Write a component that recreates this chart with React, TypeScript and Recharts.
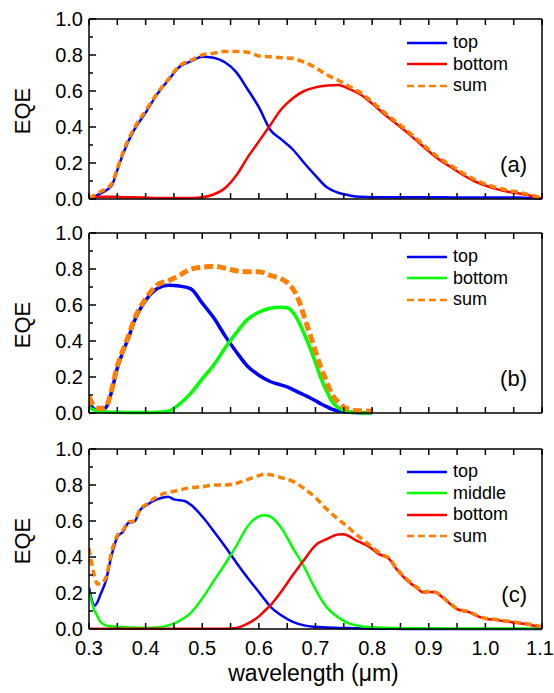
import { LineChart, Line, XAxis, YAxis, Legend } from 'recharts'

const FONT = '"Liberation Sans", Arial, sans-serif'

const X_TICKS = [0.3, 0.35, 0.4, 0.45, 0.5, 0.55, 0.6, 0.65, 0.7, 0.75, 0.8, 0.85, 0.9, 0.95, 1.0, 1.05, 1.1]
const Y_TICKS = [0, 0.1, 0.2, 0.3, 0.4, 0.5, 0.6, 0.7, 0.8, 0.9, 1.0]

// panel (a)
const WL_A = [0.30, 0.32, 0.34, 0.35, 0.36, 0.38, 0.40, 0.42, 0.44, 0.46, 0.48, 0.50, 0.52, 0.54, 0.56, 0.58, 0.60, 0.62, 0.64, 0.66, 0.68, 0.70, 0.72, 0.74, 0.76, 0.78, 0.80, 0.82, 0.84, 0.86, 0.88, 0.90, 0.92, 0.94, 0.96, 0.98, 1.00, 1.02, 1.04, 1.06, 1.08, 1.10]
const TOP_A = [0.0, 0.03, 0.075, 0.16, 0.25, 0.385, 0.48, 0.58, 0.66, 0.735, 0.765, 0.79, 0.785, 0.76, 0.705, 0.61, 0.51, 0.385, 0.33, 0.275, 0.2, 0.13, 0.065, 0.035, 0.02, 0.012, 0.01, 0.01, 0.01, 0.01, 0.01, 0.01, 0.01, 0.009, 0.009, 0.009, 0.008, 0.008, 0.008, 0.008, 0.005, 0.002]
const BOTTOM_A = [0.01, 0.012, 0.012, 0.012, 0.01, 0.01, 0.008, 0.006, 0.006, 0.005, 0.006, 0.01, 0.025, 0.06, 0.13, 0.23, 0.32, 0.41, 0.5, 0.56, 0.6, 0.62, 0.63, 0.633, 0.61, 0.58, 0.53, 0.475, 0.425, 0.375, 0.32, 0.265, 0.215, 0.175, 0.135, 0.1, 0.075, 0.055, 0.04, 0.03, 0.018, 0.003]
const SUM_A = [0.005, 0.04, 0.085, 0.17, 0.26, 0.395, 0.49, 0.585, 0.665, 0.74, 0.77, 0.8, 0.81, 0.82, 0.82, 0.815, 0.795, 0.79, 0.785, 0.78, 0.76, 0.73, 0.69, 0.66, 0.625, 0.59, 0.54, 0.485, 0.435, 0.385, 0.33, 0.275, 0.225, 0.185, 0.145, 0.11, 0.083, 0.063, 0.048, 0.037, 0.022, 0.005]

// panel (b)
const WL_B = [0.30, 0.31, 0.32, 0.33, 0.34, 0.35, 0.36, 0.37, 0.38, 0.39, 0.40, 0.42, 0.44, 0.46, 0.48, 0.50, 0.52, 0.54, 0.56, 0.58, 0.60, 0.62, 0.64, 0.65, 0.66, 0.67, 0.68, 0.69, 0.70, 0.71, 0.72, 0.73, 0.74, 0.76, 0.78, 0.80]
const TOP_B = [0.06, 0.02, 0.015, 0.03, 0.12, 0.25, 0.34, 0.42, 0.51, 0.575, 0.625, 0.69, 0.71, 0.705, 0.69, 0.61, 0.53, 0.43, 0.34, 0.26, 0.21, 0.175, 0.155, 0.145, 0.13, 0.115, 0.1, 0.085, 0.068, 0.05, 0.035, 0.02, 0.012, 0.004, 0.001, 0.0]
const BOTTOM_B = [0.03, 0.015, 0.008, 0.005, 0.004, 0.004, 0.003, 0.003, 0.003, 0.003, 0.003, 0.004, 0.01, 0.05, 0.11, 0.19, 0.265, 0.36, 0.445, 0.52, 0.56, 0.582, 0.588, 0.585, 0.56, 0.51, 0.44, 0.365, 0.28, 0.19, 0.12, 0.06, 0.03, 0.007, 0.002, 0.0]
const SUM_B = [0.09, 0.035, 0.025, 0.035, 0.13, 0.26, 0.35, 0.43, 0.52, 0.585, 0.635, 0.71, 0.735, 0.765, 0.8, 0.81, 0.815, 0.805, 0.79, 0.785, 0.785, 0.765, 0.745, 0.725, 0.69, 0.63, 0.535, 0.44, 0.34, 0.25, 0.17, 0.1, 0.06, 0.02, 0.012, 0.01]

// panel (c)
const WL_C = [0.30, 0.31, 0.315, 0.32, 0.33, 0.34, 0.35, 0.36, 0.37, 0.38, 0.39, 0.40, 0.42, 0.44, 0.45, 0.47, 0.48, 0.50, 0.52, 0.54, 0.56, 0.58, 0.60, 0.61, 0.62, 0.64, 0.66, 0.68, 0.70, 0.72, 0.74, 0.75, 0.76, 0.77, 0.78, 0.79, 0.80, 0.81, 0.82, 0.83, 0.84, 0.86, 0.88, 0.89, 0.90, 0.91, 0.93, 0.95, 0.96, 0.97, 0.98, 1.00, 1.02, 1.04, 1.06, 1.08, 1.10]
const TOP_C = [0.23, 0.13, 0.15, 0.19, 0.27, 0.41, 0.51, 0.54, 0.59, 0.595, 0.66, 0.685, 0.72, 0.735, 0.72, 0.71, 0.69, 0.625, 0.545, 0.46, 0.37, 0.285, 0.205, 0.165, 0.125, 0.075, 0.04, 0.02, 0.012, 0.008, 0.006, 0.005, 0.005, 0.004, 0.004, 0.003, 0.002, 0.001, 0.001, 0.001, 0.001, 0.0, 0.0, 0.0, 0.0, 0.0, 0.0, 0.0, 0.0, 0.0, 0.0, 0.0, 0.0, 0.0, 0.0, 0.0, 0.0]
const MIDDLE_C = [0.21, 0.1, 0.07, 0.04, 0.02, 0.015, 0.012, 0.01, 0.009, 0.008, 0.007, 0.006, 0.008, 0.02, 0.03, 0.065, 0.09, 0.17, 0.265, 0.36, 0.46, 0.57, 0.625, 0.632, 0.625, 0.56, 0.45, 0.345, 0.22, 0.12, 0.065, 0.045, 0.03, 0.022, 0.015, 0.012, 0.01, 0.008, 0.007, 0.006, 0.005, 0.004, 0.004, 0.004, 0.004, 0.004, 0.003, 0.003, 0.003, 0.003, 0.003, 0.003, 0.003, 0.003, 0.003, 0.003, 0.003]
const BOTTOM_C = [0.002, 0.002, 0.002, 0.002, 0.002, 0.002, 0.002, 0.002, 0.002, 0.002, 0.002, 0.002, 0.002, 0.002, 0.002, 0.002, 0.002, 0.002, 0.002, 0.002, 0.006, 0.03, 0.07, 0.1, 0.13, 0.21, 0.3, 0.385, 0.465, 0.5, 0.525, 0.527, 0.515, 0.495, 0.48, 0.466, 0.445, 0.42, 0.405, 0.39, 0.345, 0.275, 0.225, 0.203, 0.205, 0.204, 0.16, 0.11, 0.1, 0.095, 0.08, 0.057, 0.05, 0.04, 0.032, 0.022, 0.01]
const SUM_C = [0.45, 0.29, 0.25, 0.25, 0.29, 0.43, 0.52, 0.55, 0.595, 0.6, 0.665, 0.69, 0.735, 0.76, 0.765, 0.78, 0.785, 0.79, 0.8, 0.8, 0.81, 0.83, 0.852, 0.86, 0.857, 0.84, 0.82, 0.78, 0.73, 0.665, 0.61, 0.585, 0.56, 0.53, 0.505, 0.48, 0.455, 0.43, 0.41, 0.395, 0.35, 0.28, 0.23, 0.207, 0.208, 0.207, 0.163, 0.113, 0.103, 0.098, 0.083, 0.06, 0.053, 0.043, 0.035, 0.025, 0.012]

const BLUE = '#0000ff'
const RED = '#ff0000'
const GREEN = '#00ff00'
const ORANGE = '#ff8000'

const dataA = WL_A.map((wl, i) => ({ wl, top: TOP_A[i], bottom: BOTTOM_A[i], sum: SUM_A[i] }))
const dataB = WL_B.map((wl, i) => ({ wl, top: TOP_B[i], bottom: BOTTOM_B[i], sum: SUM_B[i] }))
const dataC = WL_C.map((wl, i) => ({ wl, top: TOP_C[i], middle: MIDDLE_C[i], bottom: BOTTOM_C[i], sum: SUM_C[i] }))

const seriesA = [
    { key: 'top', color: BLUE, width: 2.5 },
    { key: 'bottom', color: RED, width: 2.5 },
    { key: 'sum', color: ORANGE, width: 3.5, dash: '7 4' },
]
const seriesB = [
    { key: 'top', color: BLUE, width: 3.5 },
    { key: 'bottom', color: GREEN, width: 3.5 },
    { key: 'sum', color: ORANGE, width: 5, dash: '9 4' },
]
const seriesC = [
    { key: 'top', color: BLUE, width: 2.5 },
    { key: 'middle', color: GREEN, width: 2.5 },
    { key: 'bottom', color: RED, width: 2.5 },
    { key: 'sum', color: ORANGE, width: 3.5, dash: '7 4' },
]

const PLOT_LEFT = 89
const PLOT_RIGHT = 542
const PLOT_TOP = 19
const PLOT_H = 180

function XTick({ x, y, index, payload, side, labels }: any) {
    const dir = side === 'bottom' ? -1 : 1
    // last label sits at the page edge, nudge it in a little
    const nudge = index === X_TICKS.length - 1 ? -2 : 0
    return (
        <g>
            <line x1={x} y1={y} x2={x} y2={y + dir * 6} stroke="#000" strokeWidth={1.5} />
            {labels && index % 2 === 0 && (
                <text x={x + nudge} y={y + 26} textAnchor="middle" fontFamily={FONT} fontSize={20} fill="#000">
                    {Number(payload.value).toFixed(1)}
                </text>
            )}
        </g>
    )
}

function YTick({ x, y, index, payload, side }: any) {
    const major = index % 2 === 0
    const len = major ? 7 : 4
    const dir = side === 'left' ? 1 : -1
    return (
        <g>
            <line x1={x} y1={y} x2={x + dir * len} y2={y} stroke="#000" strokeWidth={1.5} />
            {side === 'left' && major && (
                <text x={x - 6} y={y} dy="0.36em" textAnchor="end" fontFamily={FONT} fontSize={20} fill="#000">
                    {Number(payload.value).toFixed(1)}
                </text>
            )}
        </g>
    )
}

function LegendBox({ payload, order }: any) {
    const items = [...(payload || [])].sort((a: any, b: any) => order.indexOf(a.dataKey) - order.indexOf(b.dataKey))
    return (
        <div style={{ fontFamily: FONT, fontSize: 18, color: '#000' }}>
            {items.map((entry: any) => (
                <div key={entry.value} style={{ display: 'flex', alignItems: 'center', height: 21.5 }}>
                    <svg width={48} height={10} style={{ display: 'block' }}>
                        <line x1={2} y1={5} x2={42} y2={5} stroke={entry.color} strokeWidth={2.5}
                            strokeDasharray={entry.dataKey === 'sum' ? '7 4' : undefined} />
                    </svg>
                    <span style={{ lineHeight: '21.5px' }}>{entry.value}</span>
                </div>
            ))}
        </div>
    )
}

function Panel({ data, series, tag, top, height, legendTop, last }: any) {
    const margin = { top: PLOT_TOP - 1, right: 554 - PLOT_RIGHT - 1, bottom: height - PLOT_TOP - PLOT_H - 1, left: PLOT_LEFT - 1 }
    const order = series.map((s: any) => s.key)
    return (
        <div style={{ position: 'absolute', left: 0, top, width: 554, height }}>
            <LineChart width={554} height={height} data={data} margin={margin}>
                <XAxis
                    dataKey="wl" type="number" domain={[0.3, 1.1]} ticks={X_TICKS} interval={0}
                    allowDataOverflow height={1} tickSize={0} tickMargin={0} tickLine={false}
                    axisLine={{ stroke: '#000', strokeWidth: 1.5 }}
                    tick={(p: any) => <XTick {...p} side="bottom" labels={last} />}
                    label={last ? () => (
                        <text x={(PLOT_LEFT + PLOT_RIGHT) / 2 - 2} y={PLOT_TOP + PLOT_H + 52} textAnchor="middle"
                            fontFamily={FONT} fontSize={23} fill="#000">wavelength (μm)</text>
                    ) : undefined}
                />
                <XAxis
                    xAxisId="t" orientation="top" dataKey="wl" type="number" domain={[0.3, 1.1]} ticks={X_TICKS}
                    interval={0} allowDataOverflow height={1} tickSize={0} tickMargin={0} tickLine={false}
                    axisLine={{ stroke: '#000', strokeWidth: 1.5 }}
                    tick={(p: any) => <XTick {...p} side="top" />}
                />
                <YAxis
                    type="number" domain={[0, 1]} ticks={Y_TICKS} interval={0} width={1}
                    tickSize={0} tickMargin={0} tickLine={false}
                    axisLine={{ stroke: '#000', strokeWidth: 1.5 }}
                    tick={(p: any) => <YTick {...p} side="left" />}
                    label={() => (
                        <text x={22} y={PLOT_TOP + PLOT_H / 2 + 2} textAnchor="middle" dominantBaseline="central"
                            transform={`rotate(-90 22 ${PLOT_TOP + PLOT_H / 2 + 2})`}
                            fontFamily={FONT} fontSize={22} fill="#000">EQE</text>
                    )}
                />
                <YAxis
                    yAxisId="r" orientation="right" type="number" domain={[0, 1]} ticks={Y_TICKS} interval={0}
                    width={1} tickSize={0} tickMargin={0} tickLine={false}
                    axisLine={{ stroke: '#000', strokeWidth: 1.5 }}
                    tick={(p: any) => <YTick {...p} side="right" />}
                    label={() => (
                        <text x={PLOT_RIGHT - 15} y={PLOT_TOP + PLOT_H - 35} textAnchor="end" dominantBaseline="central"
                            fontFamily={FONT} fontSize={22} fill="#000">{tag}</text>
                    )}
                />
                <Legend
                    layout="vertical" align="center" verticalAlign="middle"
                    content={(p: any) => <LegendBox {...p} order={order} />}
                    wrapperStyle={{ left: 405, top: legendTop, width: 140, height: 'auto' }}
                />
                {series.map((s: any) => (
                    <Line
                        key={s.key} type="monotone" dataKey={s.key} name={s.key} stroke={s.color}
                        strokeWidth={s.width} strokeDasharray={s.dash} dot={false} activeDot={false}
                        isAnimationActive={false}
                    />
                ))}
            </LineChart>
        </div>
    )
}

export default function App() {
    return (
        <div style={{ position: 'absolute', left: 0, top: 0, width: 554, height: 693, background: '#fff' }}>
            <Panel data={dataA} series={seriesA} tag="(a)" top={0} height={214} legendTop={32} />
            <Panel data={dataB} series={seriesB} tag="(b)" top={214} height={216} legendTop={32} />
            <Panel data={dataC} series={seriesC} tag="(c)" top={430} height={263} legendTop={31} last />
        </div>
    )
}
